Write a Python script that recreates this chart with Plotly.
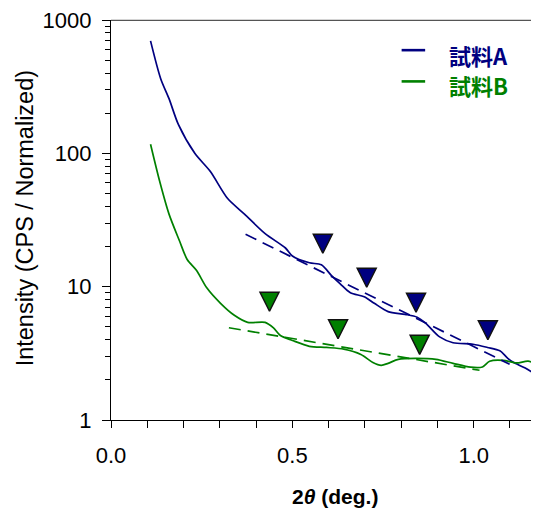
import plotly.graph_objects as go

# ---- data ----
two_theta_a = [0.109, 0.137, 0.160, 0.186, 0.231, 0.274, 0.321, 0.368, 0.425, 0.481,
               0.500, 0.547, 0.580, 0.608, 0.632, 0.660, 0.698, 0.726, 0.764, 0.811,
               0.844, 0.868, 0.906, 0.943, 0.998, 1.038, 1.072, 1.094, 1.108, 1.142, 1.176]
intensity_a = [697, 363, 257, 164, 100, 73, 46, 35, 25, 19.5,
               17, 15.1, 14.6, 12.1, 10.5, 9.0, 8.4, 7.5, 6.5, 6.2,
               5.9, 5.3, 4.2, 3.8, 3.7, 3.5, 3.3, 2.9, 2.72, 2.45, 2.15]

two_theta_b = [0.109, 0.134, 0.160, 0.189, 0.210, 0.236, 0.264, 0.302, 0.340, 0.377,
               0.425, 0.448, 0.467, 0.500, 0.547, 0.594, 0.642, 0.689, 0.722, 0.745,
               0.764, 0.792, 0.840, 0.896, 0.943, 0.991, 1.024, 1.044, 1.081, 1.118,
               1.150, 1.178]
intensity_b = [117, 62, 35, 22, 16, 13.2, 9.8, 7.5, 6.1, 5.4,
               5.4, 4.9, 4.3, 3.95, 3.57, 3.5, 3.4, 3.1, 2.7, 2.57,
               2.66, 2.85, 2.9, 2.85, 2.66, 2.49, 2.5, 2.76, 2.8, 2.68,
               2.76, 2.6]

fit_a_x = [0.371, 1.099]
fit_a_y = [24.7, 2.62]
fit_b_x = [0.325, 1.016]
fit_b_y = [4.92, 2.36]

peaks_a_x = [0.584, 0.705, 0.841, 1.039]
peaks_a_y = [17.8, 9.9, 6.43, 4.0]
peaks_b_x = [0.437, 0.626, 0.851]
peaks_b_y = [6.54, 4.07, 3.11]

series_names = ["試料A", "試料B"]
x_tick_vals = [0.0, 0.1, 0.2, 0.3, 0.4, 0.5, 0.6, 0.7, 0.8, 0.9, 1.0, 1.1]
x_tick_text = ["0.0", "", "", "", "", "0.5", "", "", "", "", "1.0", ""]
y_tick_vals = [1, 10, 100, 1000]
y_tick_text = ["1", "10", "100", "1000"]

NAVY = "#000080"
GREEN = "#008000"
FONT = "Liberation Sans, Arial, sans-serif"
CJK = "Noto Sans CJK JP, sans-serif"

fig = go.Figure()

fig.add_trace(go.Scatter(x=two_theta_a, y=intensity_a, mode="lines", line=dict(color=NAVY, width=1.7, shape="spline", smoothing=0.8), showlegend=False))
fig.add_trace(go.Scatter(x=two_theta_b, y=intensity_b, mode="lines", line=dict(color=GREEN, width=1.7, shape="spline", smoothing=0.8), showlegend=False))
fig.add_trace(go.Scatter(x=fit_a_x, y=fit_a_y, mode="lines", line=dict(color=NAVY, width=1.7, dash="12px,7px"), showlegend=False))
fig.add_trace(go.Scatter(x=fit_b_x, y=fit_b_y, mode="lines", line=dict(color=GREEN, width=1.7, dash="12px,7px"), showlegend=False))
fig.add_trace(go.Scatter(x=peaks_a_x, y=peaks_a_y, mode="markers",
                         marker=dict(symbol="arrow-down", size=19, color=NAVY, line=dict(color="#111111", width=1.5)),
                         showlegend=False))
fig.add_trace(go.Scatter(x=peaks_b_x, y=peaks_b_y, mode="markers",
                         marker=dict(symbol="arrow-down", size=19, color=GREEN, line=dict(color="#111111", width=1.5)),
                         showlegend=False))

# legend drawn manually
legend_y_line = [0.9246, 0.8465]
legend_y_text = [0.913, 0.838]
for name, col, yl, yt in zip(series_names, [NAVY, GREEN], legend_y_line, legend_y_text):
    fig.add_shape(type="line", xref="paper", yref="paper", x0=0.679, x1=0.734, y0=yl, y1=yl,
                  line=dict(color=col, width=2.6))
    fig.add_annotation(xref="paper", yref="paper", x=0.784, y=yt, xanchor="left", yanchor="middle",
                       text="<b>" + name + "</b>", showarrow=False,
                       font=dict(family=CJK, size=22, color=col))

# top frame line
fig.add_shape(type="line", xref="x domain", yref="y domain", x0=0, x1=1, y0=0.999, y1=0.999,
              line=dict(color="#555555", width=1.3), layer="above")

# axis titles
fig.add_annotation(xref="paper", yref="paper", x=0.523, y=-0.1915, xanchor="center", yanchor="middle",
                   text="<b>2<i>θ</i> (deg.)</b>", showarrow=False,
                   font=dict(family=FONT, size=21, color="black"))
fig.add_annotation(xref="paper", yref="paper", x=-0.201, y=0.504, xanchor="center", yanchor="middle",
                   text="Intensity (CPS / Normalized)", textangle=-90, showarrow=False,
                   font=dict(family=FONT, size=23.5, color="black"))

# the page puts the figure 8px in from the top-left corner, so the figure is
# sized 8px smaller and its margins adjusted accordingly
fig.update_layout(
    width=531, height=505,
    margin=dict(l=103, r=0, t=10, b=93),
    paper_bgcolor="white", plot_bgcolor="white",
    font=dict(family=FONT, size=22, color="black"),
    showlegend=False,
)
fig.update_xaxes(range=[0, 1.18], showgrid=False, zeroline=False,
                 showline=True, linecolor="black", linewidth=1.3,
                 ticks="outside", ticklen=7, tickwidth=1.2, tickcolor="black",
                 tickvals=x_tick_vals, ticktext=x_tick_text,
                 tickfont=dict(family=FONT, size=22), ticklabelstandoff=8,
                 ticklabeloverflow="allow")
fig.update_yaxes(type="log", range=[0, 3], showgrid=False, zeroline=False,
                 showline=True, linecolor="black", linewidth=1.3,
                 ticks="outside", ticklen=8, tickwidth=1.2, tickcolor="black",
                 tickvals=y_tick_vals, ticktext=y_tick_text,
                 tickfont=dict(family=FONT, size=22), ticklabelstandoff=6,
                 ticklabeloverflow="allow",
                 minor=dict(ticks="outside", ticklen=5, tickwidth=1, tickcolor="black", dtick="D1"))

fig.write_html("out.html")
